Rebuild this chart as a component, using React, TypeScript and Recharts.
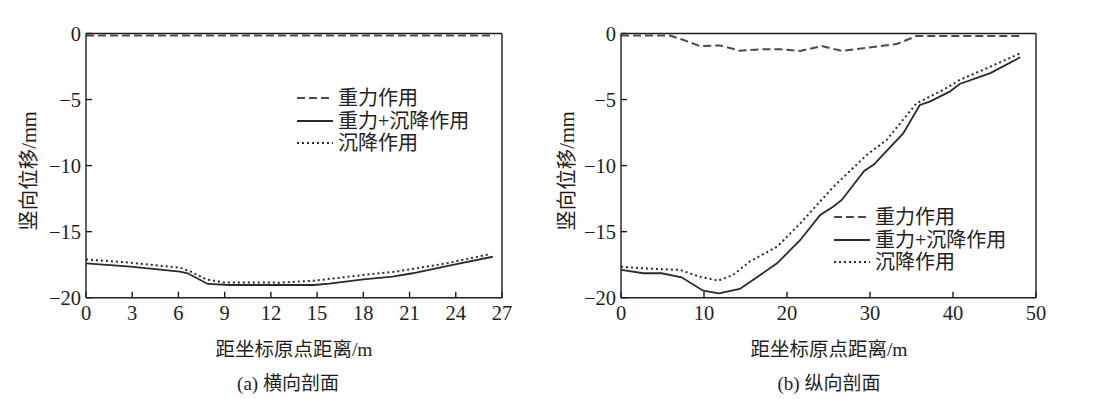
import React from 'react';
import { LineChart, Line, XAxis, YAxis, ReferenceLine, Legend } from 'recharts';

// ---------- (a) 横向剖面 ----------
const aGravityX = [0, 26.5];
const aGravityY = [-0.15, -0.15];
const aCombinedX = [0, 2.9, 6.1, 6.6, 7.9, 9.3, 14.8, 15.8, 18.0, 19.9, 21.2, 23.8, 26.4];
const aCombinedY = [-17.4, -17.65, -18.03, -18.15, -18.96, -19.04, -19.04, -18.94, -18.61, -18.41, -18.15, -17.52, -16.9];
const aSettleX = [0, 2.9, 6.1, 6.8, 7.8, 8.9, 12.6, 14.8, 18.0, 20.1, 23.4, 26.2];
const aSettleY = [-17.1, -17.35, -17.73, -18.03, -18.61, -18.84, -18.86, -18.71, -18.28, -18.03, -17.4, -16.7];
const aXTicks = [0, 3, 6, 9, 12, 15, 18, 21, 24, 27];

// ---------- (b) 纵向剖面 ----------
const bGravityX = [0, 5.9, 7.3, 9.5, 11.9, 14.3, 16.7, 19.2, 21.6, 24.2, 26.6, 29.2, 33.2, 35.6, 48.1];
const bGravityY = [-0.15, -0.15, -0.44, -0.95, -0.9, -1.3, -1.2, -1.2, -1.32, -0.95, -1.32, -1.12, -0.8, -0.19, -0.19];
const bCombinedX = [0, 2.7, 4.9, 7.3, 9.9, 11.8, 14.3, 15.9, 18.8, 21.6, 24, 25.6, 26.6, 29.3, 30.5, 31.7, 34, 36, 37.2, 39.6, 40.8, 44.5, 48.1];
const bCombinedY = [-17.9, -18.15, -18.15, -18.46, -19.47, -19.67, -19.34, -18.66, -17.4, -15.63, -13.74, -13.1, -12.6, -10.4, -9.9, -9.1, -7.56, -5.41, -5.16, -4.4, -3.82, -3.0, -1.8];
const bSettleX = [0, 2.7, 7.1, 9.5, 11.7, 13.5, 15.5, 18.8, 21.6, 25.6, 29.6, 32, 35.6, 38.8, 40.8, 44.5, 48.1];
const bSettleY = [-17.65, -17.78, -17.9, -18.41, -18.71, -18.28, -17.27, -16.14, -14.37, -11.6, -9.2, -8.06, -5.28, -4.28, -3.52, -2.51, -1.5];
const bXTicks = [0, 10, 20, 30, 40, 50];

const yTicks = [-20, -15, -10, -5, 0];

const seriesNames = ['重力作用', '重力+沉降作用', '沉降作用'];
const seriesDash = ['8 4', undefined, '2 3'];
const seriesColor = ['#4a4a4a', '#2a2a2a', '#2a2a2a'];
const seriesWidth = [2, 1.8, 2];

const xTitle = '距坐标原点距离/m';
const yTitle = '竖向位移/mm';
const captions = ['(a) 横向剖面', '(b) 纵向剖面'];

const zip = (xs: number[], ys: number[]) => xs.map((x, i) => ({ x, y: ys[i] }));

const fmt = (v: number) => (v < 0 ? '\u2212' + Math.abs(v) : String(v));

const SERIF = "'Liberation Serif', 'Noto Sans CJK SC', serif";
const AXIS = '#1e1e1e';

const LegendContent = () => (
  <div style={{ fontFamily: SERIF, fontSize: 20, color: '#222' }}>
    {seriesNames.map((n, i) => (
      <div key={n} style={{ display: 'flex', alignItems: 'center', height: 22.5 }}>
        <svg width={36} height={10} style={{ marginRight: 5 }}>
          <line x1={0} y1={5} x2={36} y2={5} stroke={seriesColor[i]} strokeWidth={seriesWidth[i]} strokeDasharray={seriesDash[i]} />
        </svg>
        <span style={{ lineHeight: '22.5px', whiteSpace: 'nowrap' }}>{n}</span>
      </div>
    ))}
  </div>
);

type PanelProps = {
  left: number;
  xMax: number;
  xTicks: number[];
  series: { x: number; y: number }[][];
  marginLeft: number;
  marginRight: number;
  legendLeft: number;
  legendTop: number;
};

const Panel = ({ left, xMax, xTicks, series, marginLeft, marginRight, legendLeft, legendTop }: PanelProps) => (
  <div style={{ position: 'absolute', left, top: 0 }}>
    <LineChart width={520} height={340} margin={{ top: 33.5, right: marginRight, left: marginLeft, bottom: 12.3 }}>
      <XAxis
        dataKey="x"
        type="number"
        domain={[0, xMax]}
        ticks={xTicks}
        allowDataOverflow
        height={30}
        tickSize={-6}
        tickMargin={14}
        stroke={AXIS}
        strokeWidth={1.4}
        tick={{ fill: '#1e1e1e', fontSize: 20.5, fontFamily: SERIF }}
        tickFormatter={fmt}
        interval={0}
      />
      <YAxis
        type="number"
        domain={[-20, 0]}
        ticks={yTicks}
        width={60}
        tickSize={-6}
        tickMargin={11}
        stroke={AXIS}
        strokeWidth={1.4}
        tick={{ fill: '#1e1e1e', fontSize: 20.5, fontFamily: SERIF }}
        tickFormatter={fmt}
        interval={0}
      />
      <ReferenceLine y={0} stroke={AXIS} strokeWidth={1.4} />
      <ReferenceLine x={xMax} stroke={AXIS} strokeWidth={1.4} />
      {series.map((d, i) => (
        <Line
          key={seriesNames[i]}
          data={d}
          dataKey="y"
          name={seriesNames[i]}
          type="linear"
          stroke={seriesColor[i]}
          strokeWidth={seriesWidth[i]}
          strokeDasharray={seriesDash[i]}
          dot={false}
          activeDot={false}
          isAnimationActive={false}
        />
      ))}
      <Legend
        layout="vertical"
        align="center"
        verticalAlign="middle"
        content={<LegendContent />}
        wrapperStyle={{ position: 'absolute', left: legendLeft, top: legendTop, width: 'auto' }}
      />
    </LineChart>
  </div>
);

const textStyle: React.CSSProperties = {
  position: 'absolute',
  fontFamily: SERIF,
  color: '#1e1e1e',
  whiteSpace: 'nowrap',
};

export default function App() {
  return (
    <div style={{ position: 'absolute', left: 0, top: 0, width: 1110, height: 399, background: '#fff', overflow: 'hidden' }}>
      <Panel
        left={0}
        xMax={27}
        xTicks={aXTicks}
        series={[zip(aGravityX, aGravityY), zip(aCombinedX, aCombinedY), zip(aSettleX, aSettleY)]}
        marginLeft={26}
        marginRight={18}
        legendLeft={297}
        legendTop={87}
      />
      <Panel
        left={540}
        xMax={50}
        xTicks={bXTicks}
        series={[zip(bGravityX, bGravityY), zip(bCombinedX, bCombinedY), zip(bSettleX, bSettleY)]}
        marginLeft={21}
        marginRight={24}
        legendLeft={294}
        legendTop={206}
      />
      {/* axis titles */}
      <div style={{ ...textStyle, left: 294, top: 347, transform: 'translate(-50%, -50%)', fontSize: 19.5 }}>{xTitle}</div>
      <div style={{ ...textStyle, left: 829, top: 347, transform: 'translate(-50%, -50%)', fontSize: 19.5 }}>{xTitle}</div>
      <div style={{ ...textStyle, left: 27, top: 171, transform: 'translate(-50%, -50%) rotate(-90deg)', fontSize: 20.5 }}>{yTitle}</div>
      <div style={{ ...textStyle, left: 565, top: 171, transform: 'translate(-50%, -50%) rotate(-90deg)', fontSize: 20.5 }}>{yTitle}</div>
      {/* captions */}
      <div style={{ ...textStyle, left: 288, top: 381, transform: 'translate(-50%, -50%)', fontSize: 19 }}>{captions[0]}</div>
      <div style={{ ...textStyle, left: 829, top: 381, transform: 'translate(-50%, -50%)', fontSize: 19 }}>{captions[1]}</div>
    </div>
  );
}
